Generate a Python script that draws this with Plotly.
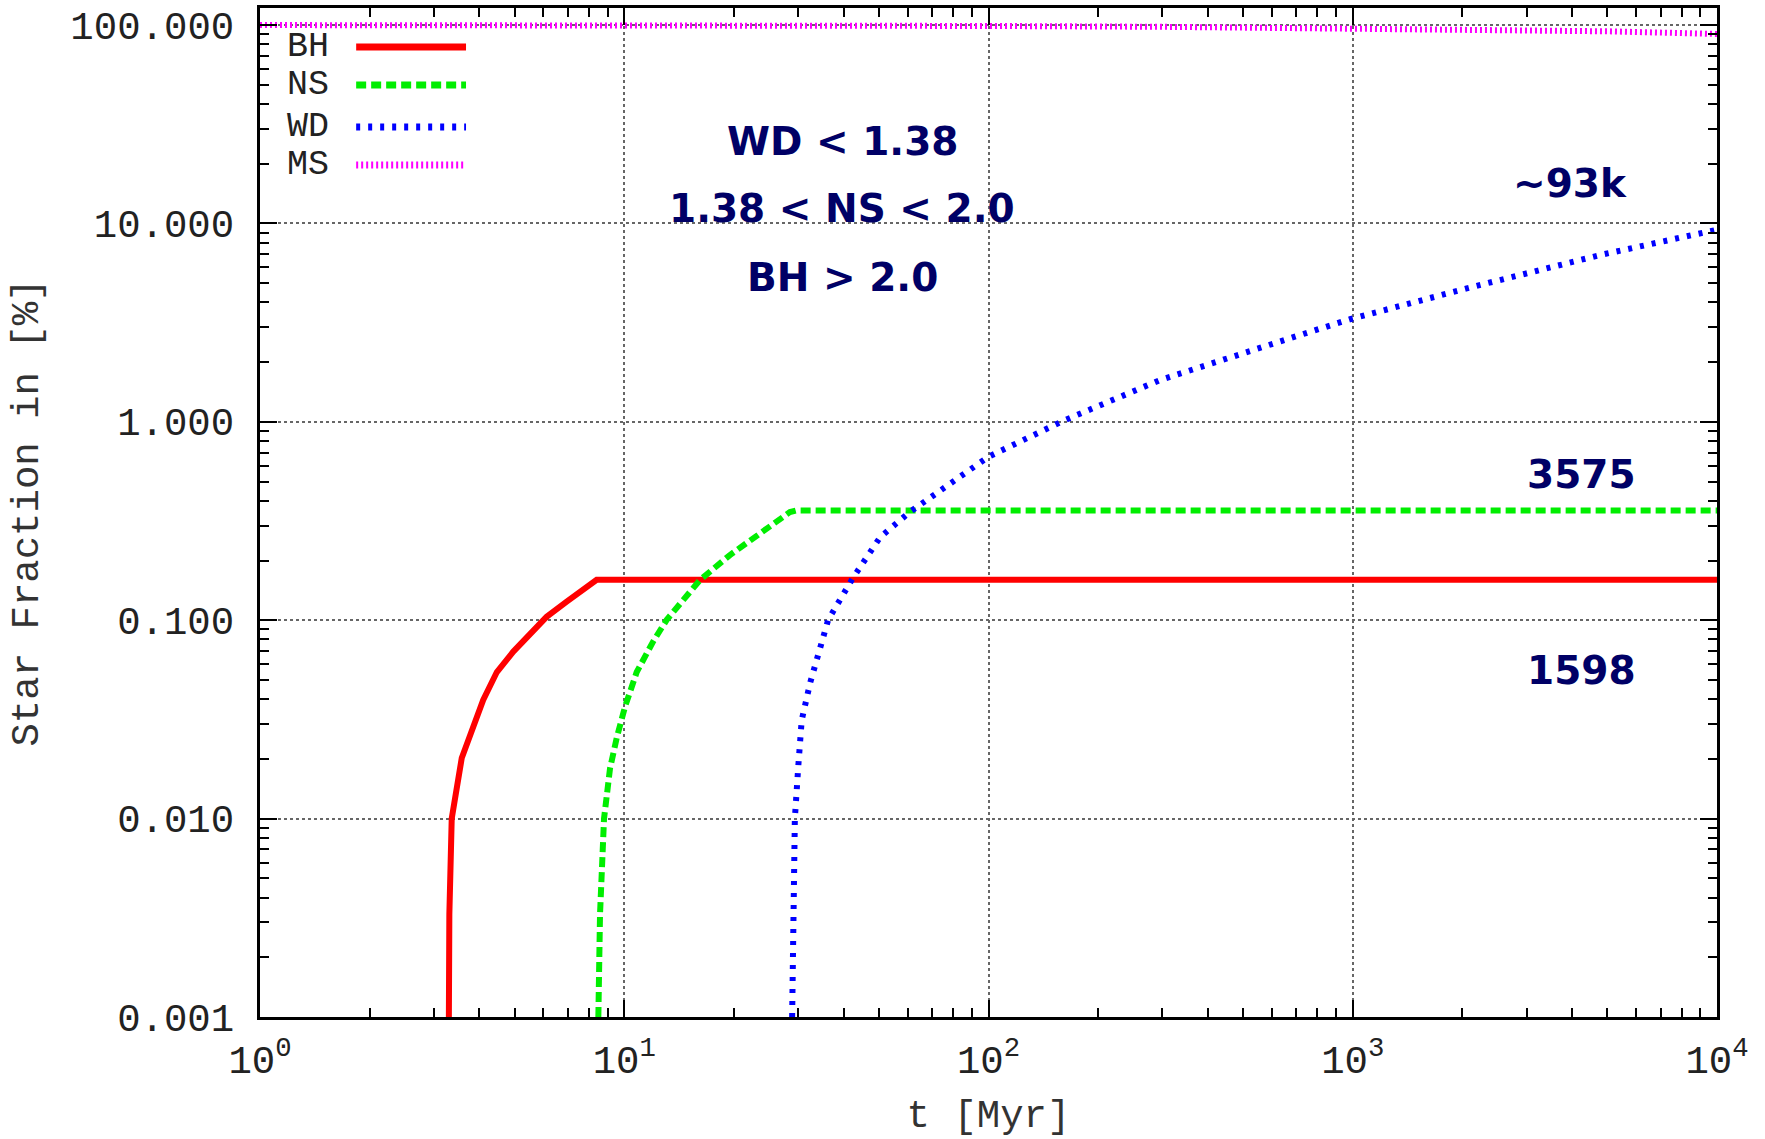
import plotly.graph_objects as go

# ---- data ----
bh_t = [3.30, 3.31, 3.36, 3.58, 4.10, 4.47, 4.96, 5.40, 6.12, 6.95, 8.40, 10000]
bh_v = [0.001, 0.0033, 0.010, 0.0202, 0.0396, 0.0548, 0.0695, 0.0817, 0.104, 0.124, 0.1598, 0.1598]

ns_t = [8.49, 8.58, 8.80, 9.14, 9.54, 10.05, 10.82, 12.02, 13.08, 16.14, 19.5, 24.1, 28.5, 29.6, 10000]
ns_v = [0.001, 0.0033, 0.010, 0.0179, 0.0256, 0.0367, 0.0548, 0.0784, 0.1005, 0.1595, 0.213, 0.282, 0.351, 0.3575, 0.3575]

wd_t = [28.9, 29.1, 29.4, 30.06, 30.7, 32.4, 34.5, 36.3, 42.5, 50.4, 60.9, 100, 162, 296, 717, 983, 2056, 4775, 10000]
wd_v = [0.001, 0.0033, 0.010, 0.0186, 0.0313, 0.0485, 0.0753, 0.1005, 0.164, 0.262, 0.352, 0.667, 1.02, 1.625, 2.74, 3.29, 4.71, 6.93, 9.3]

ms_t = [1, 3.3, 8.4, 10, 30, 100, 300, 1000, 2000, 5000, 10000]
ms_v = [100, 100, 99.84, 99.8, 99.5, 98.97, 98.0, 96.2, 95.0, 93.0, 90.2]

x_tickvals = [1, 10, 100, 1000, 10000]
x_ticktext = ["10<sup>0</sup>", "10<sup>1</sup>", "10<sup>2</sup>", "10<sup>3</sup>", "10<sup>4</sup>"]

series = [
    ("BH", bh_t, bh_v, "#ff0000", "solid"),
    ("NS", ns_t, ns_v, "#00ee00", "10px,5px"),
    ("WD", wd_t, wd_v, "#0000ff", "4px,8px"),
    ("MS", ms_t, ms_v, "#ff00ff", "2px,3px"),
]

MONO = "Liberation Mono, Courier New, monospace"
BOLD = "DejaVu Sans, Verdana, sans-serif"
NAVY = "#000066"

fig = go.Figure()
for name, t, v, col, dash in series:
    fig.add_trace(go.Scatter(x=t, y=v, mode="lines", name=name,
                             line=dict(color=col, width=6, dash=dash)))

# manual gnuplot-style legend (label left, sample right)
leg_rows = [0.9613, 0.9237, 0.8821, 0.8444]
for (name, t, v, col, dash), yy in zip(series, leg_rows):
    fig.add_annotation(x=0.0172, y=yy, xref="paper", yref="paper", text=name,
                       showarrow=False, xanchor="left", yanchor="middle",
                       font=dict(family=MONO, size=35, color="#222"))
    fig.add_shape(type="line", xref="paper", yref="paper", x0=0.066, x1=0.1414,
                  y0=yy, y1=yy, line=dict(color=col, width=7, dash=dash))

notes = [
    ("WD &lt; 1.38", 0.3995, 0.868),
    ("1.38 &lt; NS &lt; 2.0", 0.3995, 0.801),
    ("BH &gt; 2.0", 0.3995, 0.733),
    ("~93k", 0.899, 0.826),
    ("3575", 0.907, 0.538),
    ("1598", 0.907, 0.343),
]
for txt, xx, yy in notes:
    fig.add_annotation(x=xx, y=yy, xref="paper", yref="paper", text="<b>" + txt + "</b>",
                       showarrow=False, xanchor="center", yanchor="middle",
                       font=dict(family=BOLD, size=39, color=NAVY))

axis_common = dict(
    type="log", showline=True, linewidth=3, linecolor="black", mirror="allticks",
    ticks="inside", ticklen=17, tickwidth=1.5, tickcolor="black",
    showgrid=True, gridcolor="#666", griddash="dot", gridwidth=1.5,
    zeroline=False,
    tickfont=dict(family=MONO, size=39, color="#222"),
    minor=dict(ticks="inside", ticklen=9, tickwidth=1.5, tickcolor="black",
               dtick="D1", showgrid=False),
)

fig.update_xaxes(**axis_common, range=[0, 4], tickmode="array",
                 tickvals=x_tickvals, ticktext=x_ticktext, ticklabelstandoff=6,
                 title=dict(text="t [Myr]", standoff=27,
                            font=dict(family=MONO, size=39, color="#333")))
fig.update_yaxes(**axis_common, range=[-3, 2.086], tickmode="linear", tick0=0, dtick=1,
                 tickformat=".3f", ticklabelstandoff=15,
                 title=dict(text="Star Fraction in [%]", standoff=20,
                            font=dict(family=MONO, size=39, color="#333")))

fig.update_layout(width=1765, height=1139, showlegend=False,
                  margin=dict(l=260, r=48, t=8, b=122, autoexpand=False),
                  plot_bgcolor="white", paper_bgcolor="white")

fig.write_html("out.html")
